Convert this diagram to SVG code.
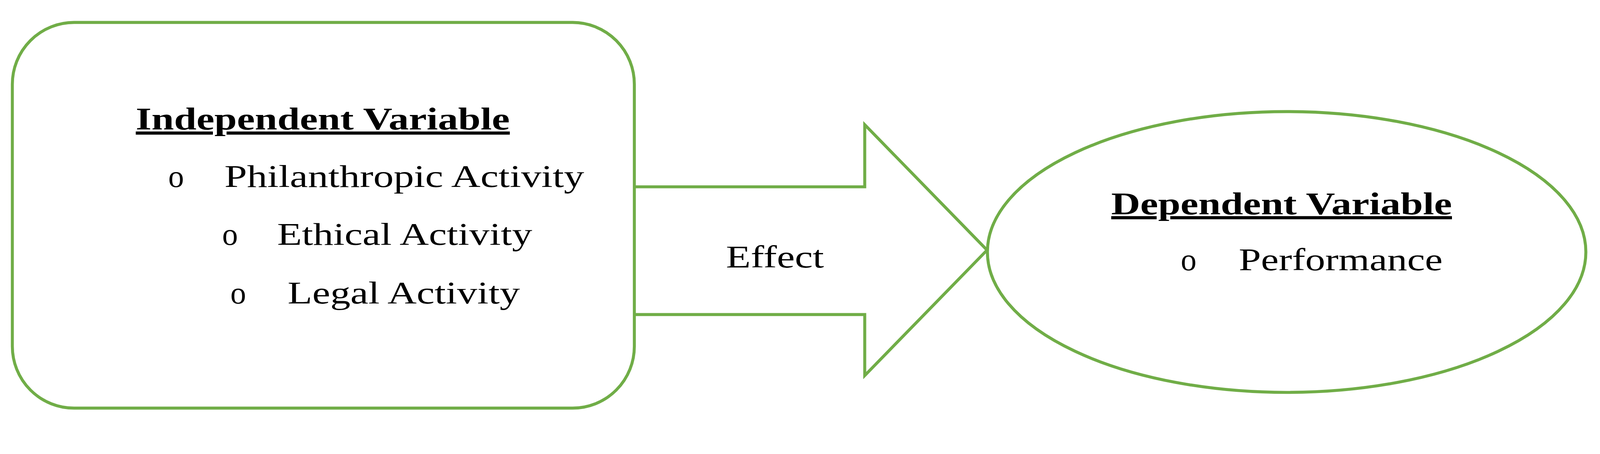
<svg xmlns="http://www.w3.org/2000/svg" width="4274" height="1161" viewBox="0 0 4274 1161">
<style>
.s{fill:#fff;stroke:#70AD47;stroke-width:8}
text{font-family:"Liberation Serif",serif;font-size:84px;fill:#000}
.b{font-weight:bold;text-decoration:underline}
</style>
<rect width="4274" height="1161" fill="#fff"/>
<g transform="scale(0.9575)">
<g id="connectors">
<path class="s" d="M1696 499 H2312 V333 L2639 668 L2312 1003 V840 H1696"/>
<text x="1941" y="714" textLength="262" lengthAdjust="spacingAndGlyphs">Effect</text>
</g>
<g id="independent">
<rect class="s" x="33" y="60" width="1663" height="1030" rx="165"/>
<text class="b" x="363" y="346" textLength="1000" lengthAdjust="spacingAndGlyphs">Independent Variable</text>
<text x="450" y="499">o</text>
<text x="600" y="499" textLength="962" lengthAdjust="spacingAndGlyphs">Philanthropic Activity</text>
<text x="594" y="654">o</text>
<text x="741" y="654" textLength="682" lengthAdjust="spacingAndGlyphs">Ethical Activity</text>
<text x="616" y="810">o</text>
<text x="769" y="810" textLength="621" lengthAdjust="spacingAndGlyphs">Legal Activity</text>
</g>
<g id="dependent">
<ellipse class="s" cx="3440" cy="673" rx="800" ry="375"/>
<text class="b" x="2971" y="572" textLength="911" lengthAdjust="spacingAndGlyphs">Dependent Variable</text>
<text x="3157" y="722">o</text>
<text x="3312" y="722" textLength="545" lengthAdjust="spacingAndGlyphs">Performance</text>
</g>
</g>
</svg>
